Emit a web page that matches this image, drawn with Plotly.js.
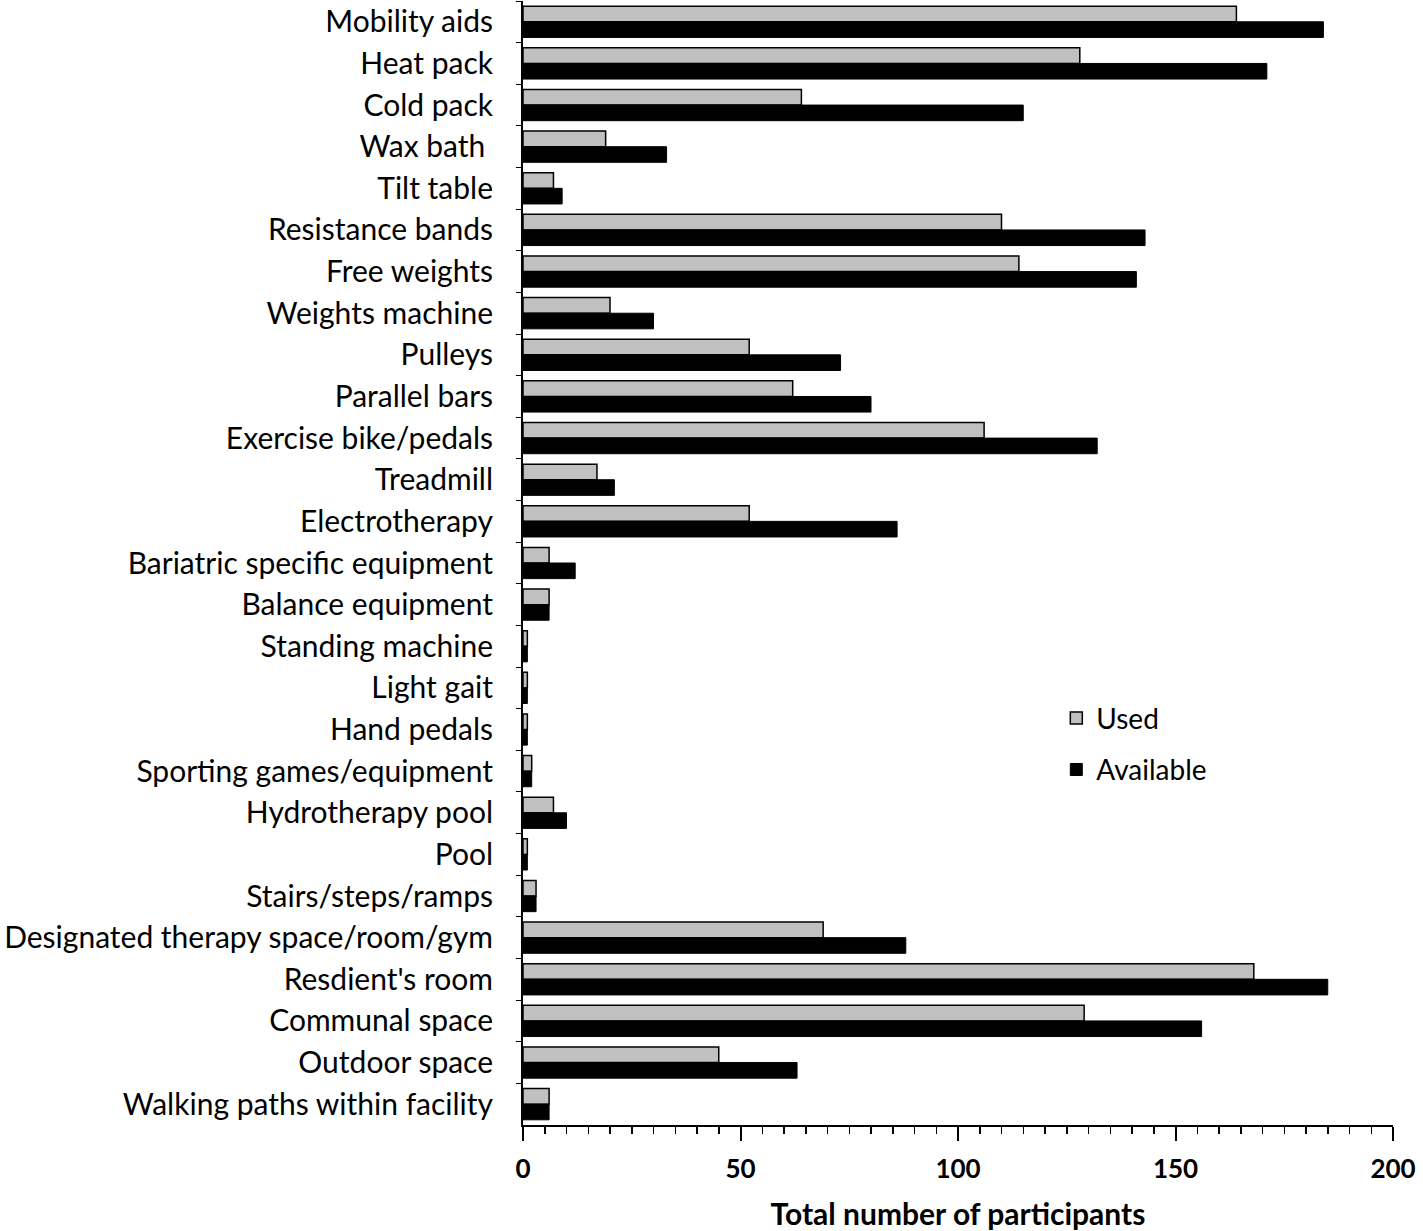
<!DOCTYPE html>
<html>
<head>
<meta charset="utf-8">
<script src="https://cdn.plot.ly/plotly-3.0.1.min.js"></script>
<style>html,body{margin:0;padding:0;background:#fff;}#chart{width:1423px;height:1231px;}</style>
</head>
<body>
<div id="chart"></div>
<script>
const categories = ["Mobility aids","Heat pack","Cold pack","Wax bath ","Tilt table","Resistance bands","Free weights","Weights machine","Pulleys","Parallel bars","Exercise bike/pedals","Treadmill","Electrotherapy","Bariatric specific equipment","Balance equipment","Standing machine","Light gait","Hand pedals","Sporting games/equipment","Hydrotherapy pool","Pool","Stairs/steps/ramps","Designated therapy space/room/gym","Resdient's room","Communal space","Outdoor space","Walking paths within facility"];
const usedValues =      [164,128,64,19,7,110,114,20,52,62,106,17,52,6,6,1,1,1,2,7,1,3,69,168,129,45,6];
const availableValues = [184,171,115,33,9,143,141,30,73,80,132,21,86,12,6,1,1,1,2,10,1,3,88,185,156,63,6];
const xTicks = [0,50,100,150,200];

const fontFam = "Lato, 'Open Sans', sans-serif";

const traces = [
  {type:"bar", orientation:"h", name:"Used", y:categories, x:usedValues,
   marker:{color:"#c0c0c0", line:{color:"#000", width:1.5}}, legendgroup:"a"},
  {type:"bar", orientation:"h", name:"Available", y:categories, x:availableValues,
   marker:{color:"#000", line:{color:"#000", width:1}}, legendgroup:"b"}
];

const layout = {
  width:1423, height:1231,
  margin:{l:523, r:30, t:1, b:106},
  paper_bgcolor:"#fff", plot_bgcolor:"#fff",
  barmode:"group", bargap:0.25, bargroupgap:0,
  font:{family:fontFam, color:"#000", size:28},
  showlegend:true,
  legend:{x:0.613, y:0.384, xanchor:"left", yanchor:"top", font:{size:28, family:fontFam},
          bgcolor:"rgba(0,0,0,0)", traceorder:"grouped", tracegroupgap:12, itemwidth:30},
  xaxis:{range:[0,200], tickvals:xTicks, ticktext:xTicks.map(String),
         showline:true, linecolor:"#000", linewidth:2, zeroline:false, showgrid:false,
         ticks:"outside", ticklen:14, tickwidth:2, tickcolor:"#000",
         minor:{dtick:5, ticks:"outside", ticklen:7, tickwidth:1.5, tickcolor:"#000", showgrid:false},
         tickfont:{size:26, family:fontFam, weight:"bold"}, ticklabelstandoff:6,
         title:{text:"Total number of participants", font:{size:30, family:fontFam, weight:"bold"}, standoff:22},
         fixedrange:true},
  yaxis:{type:"category", autorange:"reversed", showline:true, linecolor:"#000", linewidth:2,
         showgrid:false, zeroline:false, ticks:"outside", tickson:"boundaries", ticklen:5, tickcolor:"#000", tickwidth:1,
         tickfont:{size:30, family:fontFam}, ticklabelstandoff:22, fixedrange:true}
};

Plotly.newPlot("chart", traces, layout, {displayModeBar:false, staticPlot:true});
</script>
</body>
</html>
